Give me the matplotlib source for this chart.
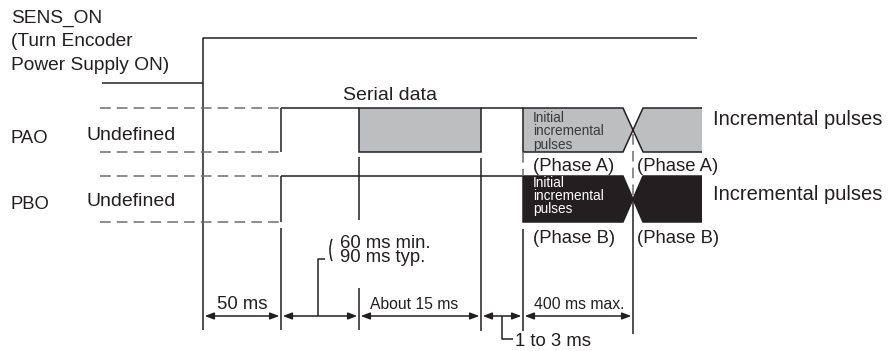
import matplotlib
matplotlib.use("Agg")
import matplotlib.pyplot as plt
from matplotlib.patches import Polygon, Arc

plt.rcParams['font.family'] = ['Liberation Sans', 'DejaVu Sans']

# time axis events (diagram units, left to right)
t_events = [203, 281, 359, 481, 523, 633]
t_sens_start = 102
t_sens_end = 697
t_undef_start = 100
t_pulse_end = 702
slant = 10

# signal levels (diagram units, top to bottom)
sens_hi, sens_lo = 38, 83
pao_hi, pao_lo = 108, 152
pbo_hi, pbo_lo = 176, 222

# interval dimensions along the bottom
interval_labels = ['50 ms', '', 'About 15 ms', '', '400 ms max.']
interval_sizes = [13.3, 13.3, 11.3, 11.3, 11.3]
dim_y = 316

sens_label = ['SENS_ON', '(Turn Encoder', 'Power Supply ON)']
signal_names = ['PAO', 'PBO']
phase_names = ['(Phase A)', '(Phase B)']
inner_text = ['Initial', 'incremental', 'pulses']

ink = '#231f20'
gray_fill = '#bcbec0'
dash_col = '#6d6e71'
lw = 1.1

fig = plt.figure(figsize=(8.93, 3.51), dpi=100)
ax = fig.add_axes([0, 0, 1, 1])
ax.set_xlim(0, 893)
ax.set_ylim(351, 0)
ax.axis('off')


def line(xs, ys, dashed=False, color=ink):
    if dashed:
        ax.plot(xs, ys, color=dash_col, lw=lw, linestyle=(0, (7, 4)),
                solid_capstyle='butt')
    else:
        ax.plot(xs, ys, color=color, lw=lw, solid_capstyle='butt')


t0, t1, t2, t3, t4, t5 = t_events

# SENS_ON
line([t_sens_start, t0, t0, t_sens_end], [sens_lo, sens_lo, sens_hi, sens_hi])
line([t0, t0], [sens_lo, 330])
for txt, yb in zip(sens_label, [22.7, 46.5, 70.2]):
    ax.text(11, yb, txt, fontsize=13.8, va='baseline', ha='left', color=ink)

# PAO / PBO undefined + rise
for hi, lo in [(pao_hi, pao_lo), (pbo_hi, pbo_lo)]:
    line([t_undef_start, t1], [hi, hi], dashed=True)
    line([t_undef_start, t1], [lo, lo], dashed=True)
    line([t1, t1], [lo, hi])
line([t1, t1], [228, 330])

# PAO high and serial data box
line([t1, t2], [pao_hi, pao_hi])
ax.add_patch(Polygon([[t2, pao_hi], [t3, pao_hi], [t3, pao_lo], [t2, pao_lo]],
                     closed=True, facecolor=gray_fill, edgecolor=ink, lw=lw))
line([t3, t4], [pao_hi, pao_hi])
ax.text(343, 100, 'Serial data', fontsize=14, va='baseline', ha='left', color=ink)

# PBO high
line([t1, t4], [pbo_hi, pbo_hi])

# guide lines
line([t2, t2], [157, 220])
line([t2, t2], [288, 330])
line([t3, t3], [158, 331])
line([t4, t4], [pao_lo, pbo_hi], dashed=True)
line([t4, t4], [229, 331])


# incremental pulses shapes
def pulse(hi, lo, face, edge):
    mid = (hi + lo) / 2
    left = [[t4, hi], [t5 - slant, hi], [t5, mid], [t5 - slant, lo], [t4, lo]]
    right = [[t5, mid], [t5 + slant, hi], [t_pulse_end, hi], [t_pulse_end, lo], [t5 + slant, lo]]
    ax.add_patch(Polygon(left, closed=True, facecolor=face, edgecolor=edge, lw=lw))
    ax.add_patch(Polygon(right, closed=True, facecolor=face, edgecolor='none'))
    line([t_pulse_end, t5 + slant, t5, t5 + slant, t_pulse_end], [hi, hi, mid, lo, lo], color=edge)
    return mid


mid_a = pulse(pao_hi, pao_lo, gray_fill, ink)
mid_b = pulse(pbo_hi, pbo_lo, ink, ink)
line([t5, t5], [mid_a + 4, mid_b - 3], dashed=True)
line([t5, t5], [mid_b, 334])

ax.text(533, 148.5, '\n'.join(inner_text), fontsize=9.8, va='baseline', ha='left',
        color='#3a3a3a', linespacing=0.93)
ax.text(533, 213.5, '\n'.join(inner_text), fontsize=9.8, va='baseline', ha='left',
        color='white', linespacing=0.93)

for i, (name, hi, lo) in enumerate([(signal_names[0], pao_hi, pao_lo),
                                     (signal_names[1], pbo_hi, pbo_lo)]):
    ax.text(10, lo - 10 + (1 if i == 0 else -3), name, fontsize=13.3, va='baseline', color=ink)
    ax.text(87, lo - 12 + (0 if i == 0 else -4), 'Undefined', fontsize=14, va='baseline', color=ink)
    ax.text(713, [125, 200][i], 'Incremental pulses', fontsize=14.5, va='baseline', color=ink)
    yb = [171, 243][i]
    ax.text(533, yb, phase_names[i], fontsize=13.3, va='baseline', color=ink)
    ax.text(637, yb, phase_names[i], fontsize=13.3, va='baseline', color=ink)

# dimension arrows
for a, b, lab, fs in zip(t_events[:-1], t_events[1:], interval_labels, interval_sizes):
    ax.annotate('', xy=(b, dim_y), xytext=(a, dim_y),
                arrowprops=dict(arrowstyle='<|-|>,head_length=0.45,head_width=0.17',
                                mutation_scale=12, lw=lw, color=ink,
                                shrinkA=1.2, shrinkB=1.2))
    if lab:
        ax.text(a + 11 if fs < 13 else (a + b) / 2, 309, lab, fontsize=fs,
                va='baseline', ha='left' if fs < 13 else 'center', color=ink)

# 60 ms / 90 ms callout
mx = (t1 + t2) / 2 - 2
line([mx, mx, 325], [dim_y, 259, 259])
ax.add_patch(Arc((341.2, 250), 22.4, 39, theta1=130, theta2=230, color=ink, lw=lw))
ax.text(340, 262, '60 ms min.\n90 ms typ.', fontsize=13.3, va='baseline', color=ink,
        linespacing=0.8)

# 1 to 3 ms callout
mx2 = (t3 + t4) / 2
line([mx2, mx2, 513], [dim_y, 339, 339])
ax.text(515, 346, '1 to 3 ms', fontsize=13.3, va='baseline', color=ink)

fig.savefig('out.png', dpi=100)
